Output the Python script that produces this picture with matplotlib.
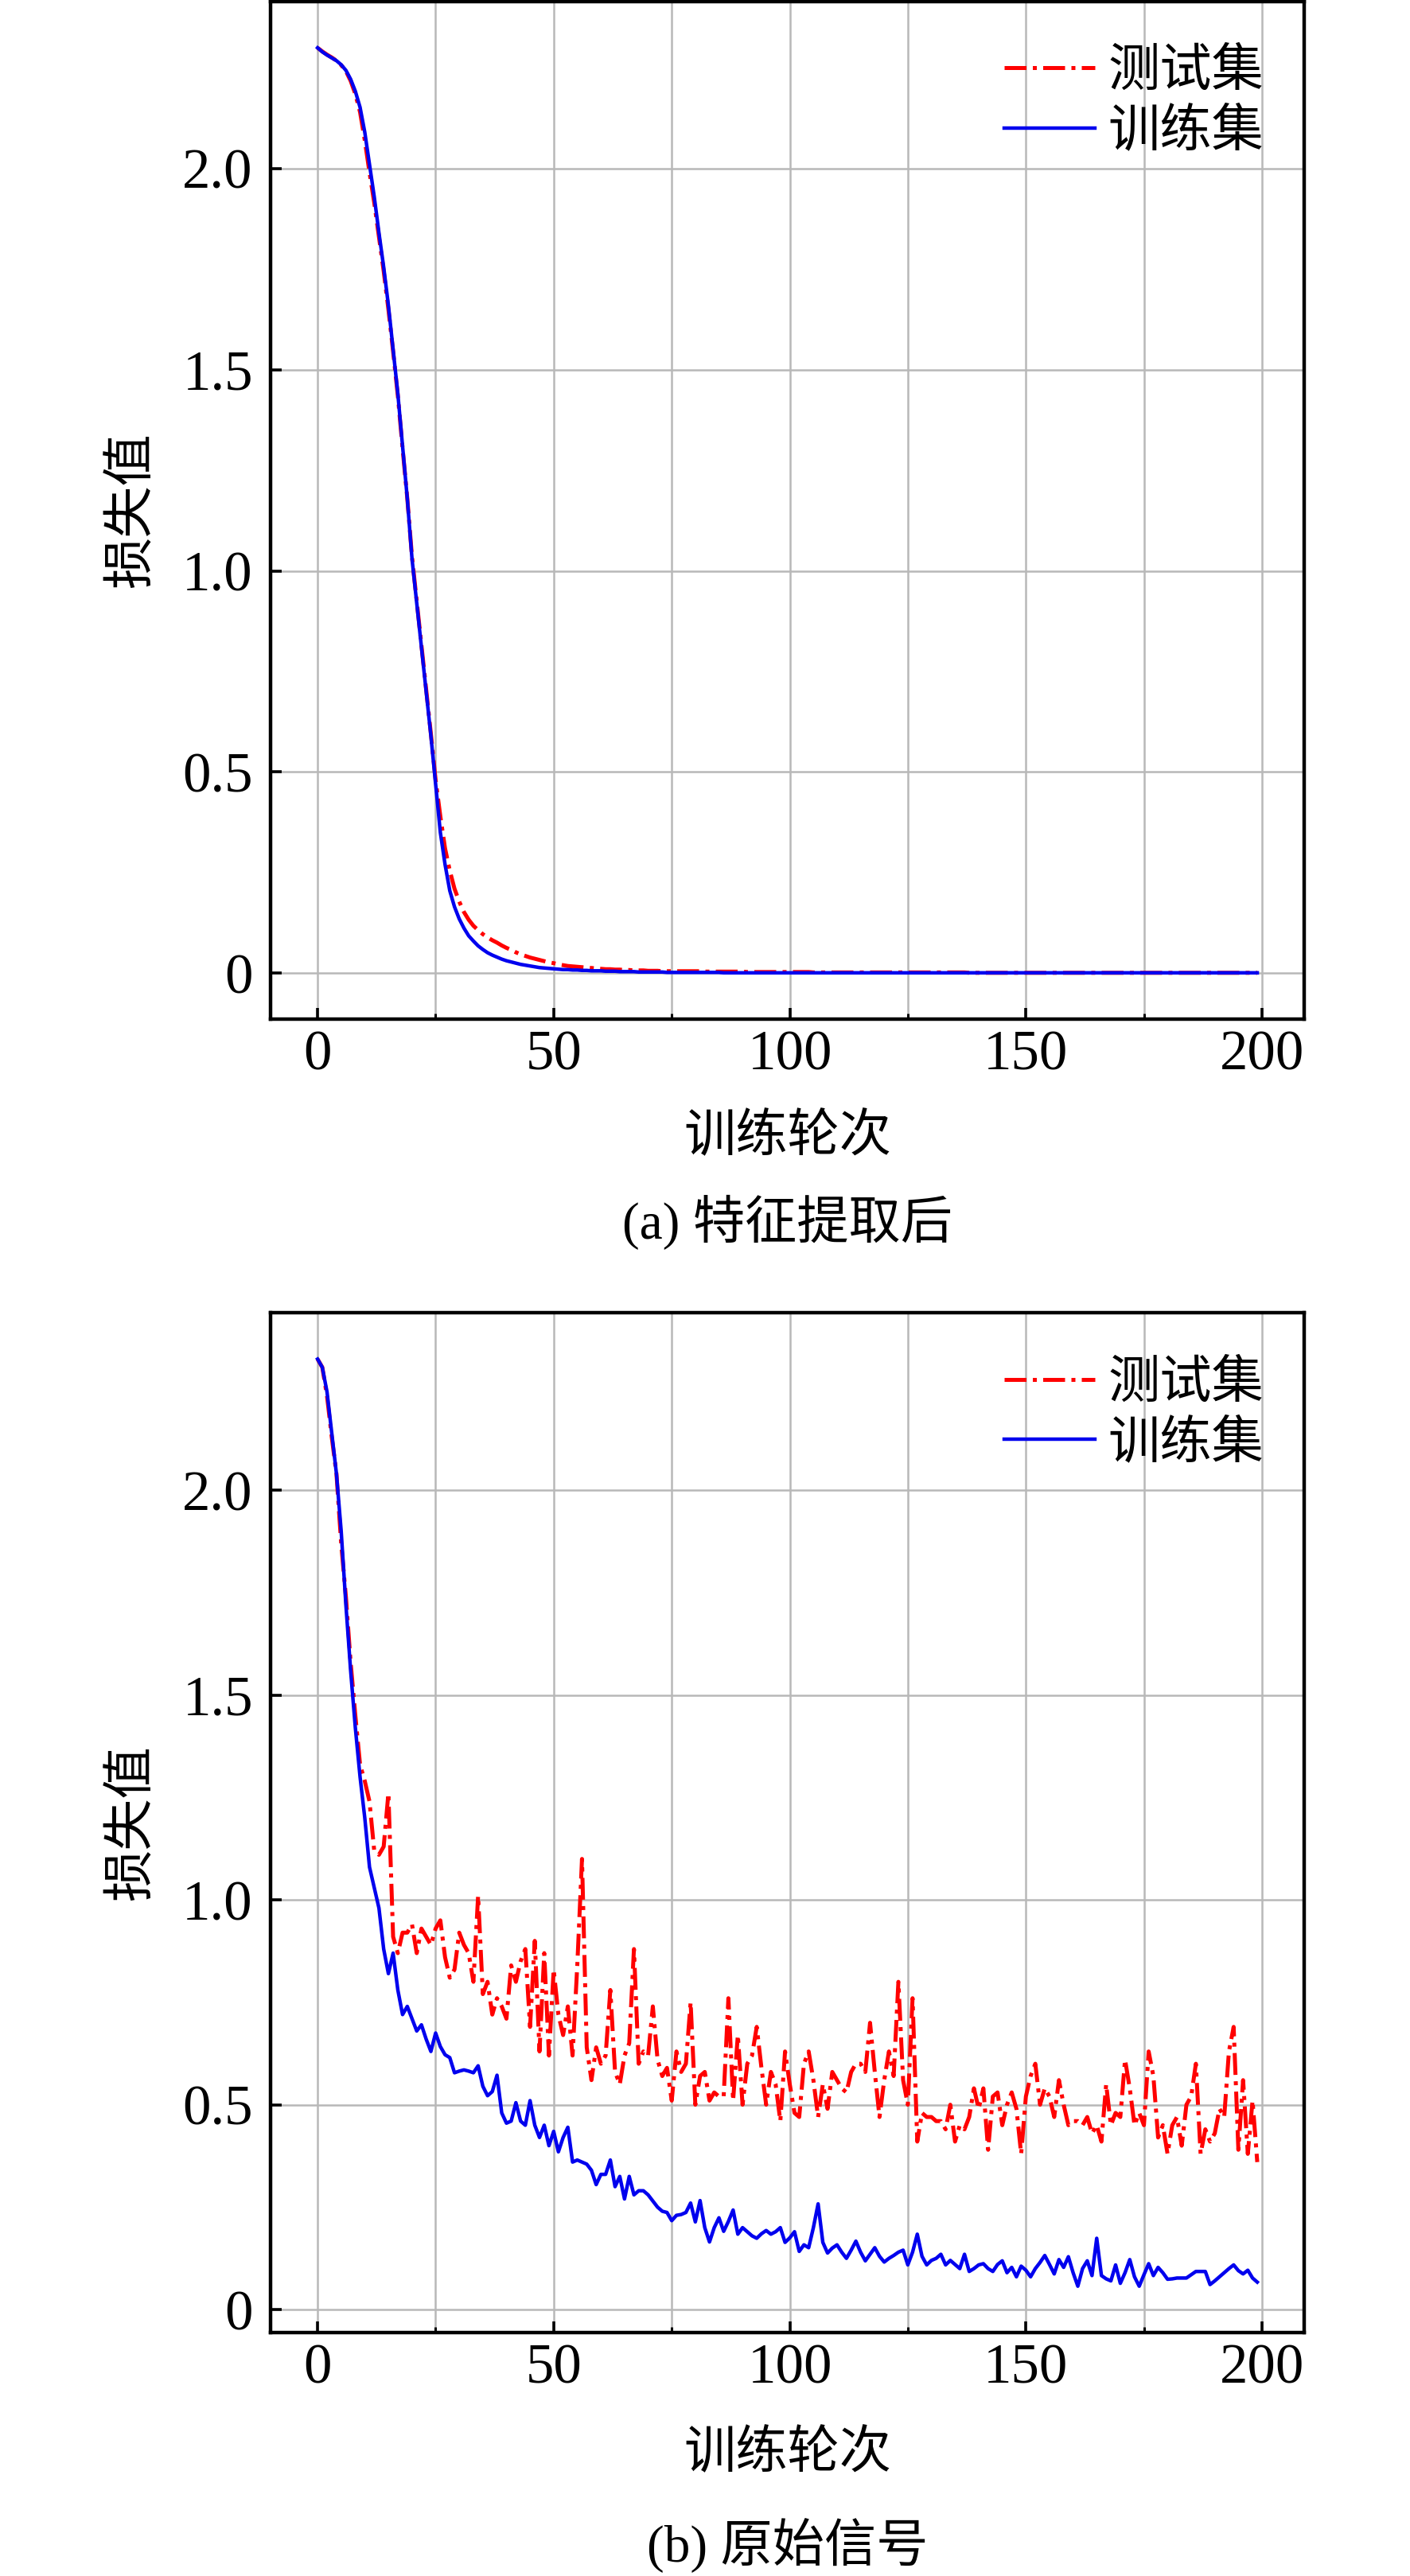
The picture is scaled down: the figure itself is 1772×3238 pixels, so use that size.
import matplotlib
matplotlib.use('Agg')
import matplotlib.pyplot as plt
from matplotlib.ticker import MultipleLocator, FuncFormatter

plt.rcParams['font.family'] = ['Liberation Serif', 'Noto Sans CJK SC']
plt.rcParams['font.size'] = 23.5

epochs = list(range(200))

# (a) after feature extraction
test_a = [
    2.300, 2.291, 2.283, 2.276, 2.268, 2.257, 2.242, 2.218, 2.185, 2.140,
    2.070, 1.990, 1.915, 1.830, 1.745, 1.650, 1.545, 1.435, 1.305, 1.180,
    1.035, 0.925, 0.815, 0.705, 0.595, 0.480, 0.390, 0.310, 0.255, 0.210,
    0.178, 0.152, 0.133, 0.118, 0.107, 0.097, 0.089, 0.082, 0.076, 0.069,
    0.063, 0.058, 0.052, 0.047, 0.043, 0.039, 0.036, 0.033, 0.030, 0.027,
    0.025, 0.022, 0.020, 0.018, 0.017, 0.016, 0.015, 0.014, 0.013, 0.012,
    0.011, 0.010, 0.010, 0.009, 0.009, 0.008, 0.008, 0.007, 0.007, 0.007,
    0.006, 0.006, 0.006, 0.005, 0.005, 0.005, 0.005, 0.005, 0.005, 0.005,
    0.005, 0.005, 0.004, 0.004, 0.004, 0.004, 0.004, 0.004, 0.004, 0.004,
    0.004, 0.003, 0.003, 0.003, 0.003, 0.003, 0.003, 0.003, 0.003, 0.003,
    0.003, 0.003, 0.003, 0.003, 0.003, 0.002, 0.002, 0.002, 0.002, 0.002,
    0.002, 0.002, 0.002, 0.002, 0.002, 0.002, 0.002, 0.002, 0.002, 0.002,
    0.002, 0.002, 0.002, 0.002, 0.002, 0.002, 0.002, 0.002, 0.002, 0.002,
    0.002, 0.002, 0.002, 0.002, 0.002, 0.002, 0.002, 0.002, 0.001, 0.001,
    0.001, 0.001, 0.001, 0.001, 0.001, 0.001, 0.001, 0.001, 0.001, 0.001,
    0.001, 0.001, 0.001, 0.001, 0.001, 0.001, 0.001, 0.001, 0.001, 0.001,
    0.001, 0.001, 0.001, 0.001, 0.001, 0.001, 0.001, 0.001, 0.001, 0.001,
    0.001, 0.001, 0.001, 0.001, 0.001, 0.001, 0.001, 0.001, 0.001, 0.001,
    0.001, 0.001, 0.001, 0.001, 0.001, 0.001, 0.001, 0.001, 0.001, 0.001,
    0.001, 0.001, 0.001, 0.001, 0.001, 0.001, 0.001, 0.001, 0.001, 0.001,
]
train_a = [
    2.300, 2.290, 2.282, 2.275, 2.268, 2.258, 2.244, 2.222, 2.192, 2.152,
    2.090, 2.010, 1.930, 1.840, 1.755, 1.660, 1.550, 1.440, 1.310, 1.180,
    1.030, 0.920, 0.810, 0.700, 0.590, 0.470, 0.350, 0.270, 0.205, 0.165,
    0.135, 0.112, 0.093, 0.080, 0.068, 0.059, 0.051, 0.045, 0.040, 0.035,
    0.031, 0.028, 0.025, 0.022, 0.020, 0.018, 0.016, 0.014, 0.013, 0.012,
    0.011, 0.010, 0.009, 0.009, 0.008, 0.008, 0.007, 0.007, 0.006, 0.006,
    0.006, 0.005, 0.005, 0.005, 0.004, 0.004, 0.004, 0.004, 0.003, 0.003,
    0.003, 0.003, 0.003, 0.003, 0.002, 0.002, 0.002, 0.002, 0.002, 0.002,
    0.002, 0.002, 0.002, 0.002, 0.002, 0.002, 0.001, 0.001, 0.001, 0.001,
    0.001, 0.001, 0.001, 0.001, 0.001, 0.001, 0.001, 0.001, 0.001, 0.001,
    0.001, 0.001, 0.001, 0.001, 0.001, 0.001, 0.001, 0.001, 0.001, 0.001,
    0.001, 0.001, 0.001, 0.001, 0.001, 0.001, 0.001, 0.001, 0.001, 0.001,
    0.001, 0.001, 0.001, 0.001, 0.001, 0.001, 0.001, 0.001, 0.001, 0.001,
    0.001, 0.001, 0.001, 0.001, 0.001, 0.001, 0.001, 0.001, 0.001, 0.001,
    0.001, 0.001, 0.001, 0.001, 0.001, 0.001, 0.001, 0.001, 0.001, 0.001,
    0.001, 0.001, 0.001, 0.001, 0.001, 0.001, 0.001, 0.001, 0.001, 0.001,
    0.001, 0.001, 0.001, 0.001, 0.001, 0.001, 0.001, 0.001, 0.001, 0.001,
    0.001, 0.001, 0.001, 0.001, 0.001, 0.001, 0.001, 0.001, 0.001, 0.001,
    0.001, 0.001, 0.001, 0.001, 0.001, 0.001, 0.001, 0.001, 0.001, 0.001,
    0.001, 0.001, 0.001, 0.001, 0.001, 0.001, 0.001, 0.001, 0.001, 0.001,
]

# (b) raw signal
test_b = [
    2.32, 2.30, 2.23, 2.13, 2.04, 1.87, 1.74, 1.58, 1.45, 1.33,
    1.29, 1.24, 1.12, 1.11, 1.13, 1.26, 0.91, 0.87, 0.92, 0.92,
    0.94, 0.87, 0.93, 0.91, 0.89, 0.93, 0.95, 0.86, 0.81, 0.83,
    0.92, 0.89, 0.87, 0.80, 1.01, 0.77, 0.80, 0.72, 0.76, 0.74,
    0.71, 0.84, 0.80, 0.85, 0.88, 0.69, 0.90, 0.63, 0.87, 0.62,
    0.83, 0.72, 0.67, 0.74, 0.62, 0.84, 1.10, 0.64, 0.56, 0.64,
    0.60, 0.62, 0.78, 0.58, 0.55, 0.62, 0.65, 0.88, 0.60, 0.63,
    0.62, 0.74, 0.61, 0.57, 0.59, 0.51, 0.63, 0.58, 0.60, 0.75,
    0.50, 0.57, 0.58, 0.51, 0.53, 0.52, 0.52, 0.76, 0.51, 0.67,
    0.50, 0.60, 0.62, 0.69, 0.59, 0.50, 0.58, 0.55, 0.46, 0.63,
    0.55, 0.48, 0.47, 0.60, 0.63, 0.56, 0.47, 0.55, 0.49, 0.58,
    0.56, 0.54, 0.53, 0.58, 0.60, 0.60, 0.58, 0.70, 0.58, 0.47,
    0.56, 0.63, 0.57, 0.80, 0.56, 0.50, 0.76, 0.41, 0.48, 0.47,
    0.47, 0.46, 0.46, 0.44, 0.50, 0.41, 0.45, 0.44, 0.47, 0.54,
    0.49, 0.54, 0.39, 0.52, 0.53, 0.45, 0.50, 0.53, 0.49, 0.38,
    0.52, 0.57, 0.60, 0.50, 0.54, 0.52, 0.47, 0.56, 0.50, 0.45,
    0.46, 0.46, 0.45, 0.47, 0.43, 0.45, 0.41, 0.55, 0.45, 0.48,
    0.47, 0.61, 0.54, 0.45, 0.48, 0.45, 0.63, 0.57, 0.42, 0.45,
    0.38, 0.45, 0.47, 0.40, 0.50, 0.52, 0.60, 0.38, 0.44, 0.41,
    0.43, 0.49, 0.47, 0.63, 0.69, 0.39, 0.56, 0.38, 0.51, 0.36,
]
train_b = [
    2.32, 2.30, 2.24, 2.14, 2.04, 1.90, 1.72, 1.56, 1.42, 1.30,
    1.20, 1.08, 1.03, 0.98, 0.88, 0.82, 0.87, 0.78, 0.72, 0.74,
    0.71, 0.68, 0.695, 0.66, 0.63, 0.675, 0.642, 0.622, 0.615, 0.578,
    0.582, 0.585, 0.582, 0.578, 0.595, 0.545, 0.522, 0.532, 0.572, 0.48,
    0.455, 0.46, 0.505, 0.46, 0.45, 0.51, 0.45, 0.42, 0.45, 0.40,
    0.435, 0.385, 0.42, 0.445, 0.36, 0.365, 0.36, 0.355, 0.34, 0.305,
    0.33, 0.33, 0.365, 0.30, 0.325, 0.27, 0.325, 0.28, 0.29, 0.29,
    0.28, 0.265, 0.25, 0.24, 0.237, 0.217, 0.23, 0.232, 0.237, 0.26,
    0.214, 0.266, 0.20, 0.165, 0.20, 0.224, 0.191, 0.215, 0.243, 0.184,
    0.20, 0.19, 0.18, 0.174, 0.185, 0.193, 0.184, 0.19, 0.20, 0.164,
    0.175, 0.19, 0.142, 0.158, 0.151, 0.20, 0.258, 0.164, 0.138, 0.15,
    0.158, 0.14, 0.125, 0.145, 0.167, 0.14, 0.119, 0.135, 0.151, 0.13,
    0.116, 0.125, 0.132, 0.14, 0.145, 0.109, 0.14, 0.184, 0.13, 0.109,
    0.12, 0.125, 0.135, 0.109, 0.12, 0.11, 0.10, 0.135, 0.093, 0.10,
    0.109, 0.112, 0.10, 0.093, 0.11, 0.119, 0.09, 0.103, 0.08, 0.106,
    0.096, 0.08, 0.10, 0.115, 0.132, 0.11, 0.087, 0.122, 0.103, 0.129,
    0.09, 0.057, 0.10, 0.119, 0.083, 0.174, 0.083, 0.075, 0.07, 0.109,
    0.064, 0.09, 0.122, 0.08, 0.057, 0.085, 0.112, 0.083, 0.103, 0.09,
    0.074, 0.075, 0.077, 0.077, 0.077, 0.085, 0.093, 0.093, 0.093, 0.061,
    0.07, 0.08, 0.09, 0.10, 0.109, 0.095, 0.087, 0.096, 0.077, 0.067,
]

legend_labels = ['测试集', '训练集']
x_label = '训练轮次'
y_label = '损失值'
captions = ['(a) 特征提取后', '(b) 原始信号']

fig = plt.figure(figsize=(8.86, 16.19), dpi=200)
ax_a = fig.add_axes([0.1919, 0.6044, 0.7331, 0.3950])
ax_b = fig.add_axes([0.1919, 0.0945, 0.7331, 0.3959])

fmt = FuncFormatter(lambda v, p: '0' if abs(v) < 1e-9 else f'{v:.1f}')

panels = [(ax_a, test_a, train_a, captions[0], 0.5256, -0.1173),
          (ax_b, test_b, train_b, captions[1], 0.0120, -0.1201)]

for ax, test, train, cap, cap_y, xl_y in panels:
    ax.plot(epochs, test, color='#ff0000', lw=1.8, ls=(0, (5.5, 1.6, 1, 1.6)),
            label=legend_labels[0])
    ax.plot(epochs, train, color='#0000ee', lw=1.6, label=legend_labels[1])

    ax.xaxis.set_major_locator(MultipleLocator(50))
    ax.xaxis.set_minor_locator(MultipleLocator(25))
    ax.yaxis.set_major_locator(MultipleLocator(0.5))
    ax.yaxis.set_major_formatter(fmt)

    ax.grid(which='both', axis='x', color='#b8b8b8', lw=0.9)
    ax.grid(which='major', axis='y', color='#b8b8b8', lw=0.9)
    ax.set_axisbelow(True)

    for s in ax.spines.values():
        s.set_linewidth(1.6)
    ax.tick_params(which='major', direction='in', length=5, width=1.3,
                   labelsize=25.5)
    ax.tick_params(which='minor', direction='in', length=2.5, width=1.1)
    ax.tick_params(axis='x', pad=5)
    ax.tick_params(axis='y', pad=8)

    ax.set_xlabel(x_label, va='center')
    ax.xaxis.set_label_coords(0.5, xl_y)
    ax.set_ylabel(y_label, va='center', ha='center')
    ax.yaxis.set_label_coords(-0.133, 0.5)

    ax.legend(loc='upper right', bbox_to_anchor=(0.961, 0.953), frameon=False,
              handlelength=1.75, handletextpad=0.25, labelspacing=0.22,
              borderpad=0, borderaxespad=0)

    fig.text(0.5585, cap_y, cap, ha='center', va='center')

fig.savefig('out.png', dpi=200, facecolor='white')
